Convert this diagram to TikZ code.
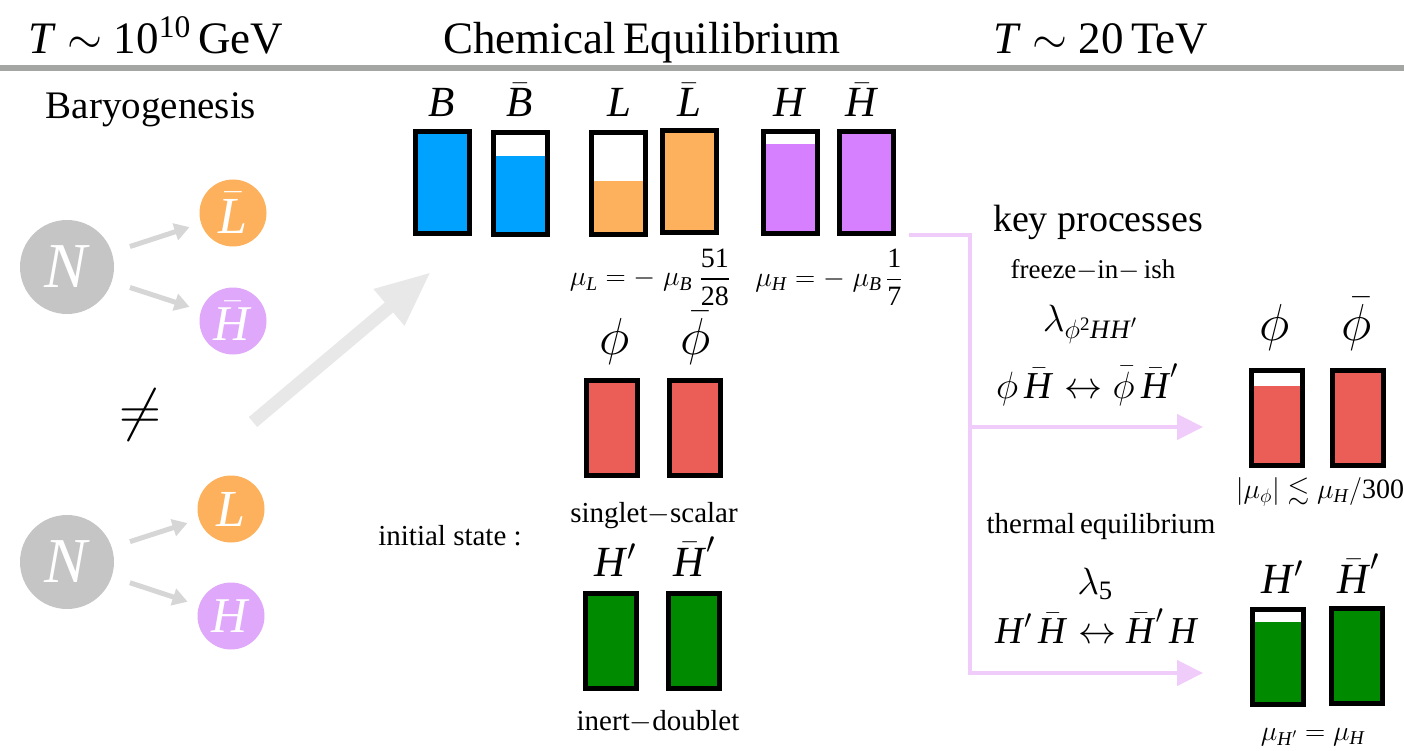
\RequirePackage{fix-cm}
\documentclass[tikz,border=0pt]{standalone}
\usepackage{amsmath,amssymb}
\usepackage{fontspec}
\setmainfont{Liberation Serif}
\usetikzlibrary{arrows.meta}
\definecolor{blueF}{RGB}{0,162,255}
\definecolor{orangeF}{RGB}{253,177,92}
\definecolor{purpleF}{RGB}{214,128,255}
\definecolor{purpleC}{RGB}{224,168,250}
\definecolor{redF}{RGB}{235,94,88}
\definecolor{greenF}{RGB}{0,138,0}
\definecolor{grayN}{RGB}{196,197,196}
\definecolor{arrowG}{RGB}{214,214,214}
\definecolor{bigG}{RGB}{232,232,232}
\definecolor{pinkL}{RGB}{240,204,250}
\definecolor{hline}{RGB}{163,166,163}
\newcommand\iv[1]{\textit{#1}}
\newcommand\fs[1]{\fontsize{#1}{#1}\selectfont}
\begin{document}
\begin{tikzpicture}[x=1pt,y=-1pt,
  txt/.style={inner sep=0pt,anchor=base},
  hdr/.style={txt,font=\fs{45}},
  lbl/.style={txt,font=\fs{43}},
  plbl/.style={txt,font=\fs{52}},
  small/.style={txt,font=\fs{29}},
  eq/.style={txt,font=\fs{38}},
  meq/.style={inner sep=0pt,anchor=center,font=\fs{28}},
  bar/.style={draw=black,line width=5pt,minimum width=54pt,minimum height=102pt,inner sep=0pt},
  sbar/.style={bar,minimum width=51pt,minimum height=95pt},
  partfill/.style={path picture={\fill[white] (path picture bounding box.north west) rectangle ([yshift=-#1pt]path picture bounding box.north east);}},
  circ/.style={circle,inner sep=0pt,text=white},
  garrow/.style={draw=arrowG,line width=5pt,-{Triangle[length=15pt,width=17pt]},shorten <=19pt,shorten >=12pt},
  pk/.style={draw=pinkL,line width=4.5pt},
  pkarrow/.style={pk,-{Triangle[length=26pt,width=25pt]}}
]
\useasboundingbox (0,0) rectangle (1404,751);
% header
\node[hdr] (h1) at (156,54) {\iv{T} $\sim$ 10$^{\text{10}}$\,GeV};
\node[hdr] (h2) at (642,54) {Chemical\,Equilibrium};
\node[hdr] (h3) at (1101,54) {\iv{T} $\sim$ 20\,TeV};
\draw[hline,line width=6pt] (0,68) -- (1404,68);
% baryogenesis
\node[txt,font=\fs{39}] (bary) at (151,119) {Baryogenesis};
\node[circ,fill=grayN,minimum size=94pt,font=\fs{64}] (n1) at (67,267) {\iv{N}};
\node[circ,fill=orangeF,minimum size=67pt,font=\fs{52}] (lb) at (233,213) {$\bar{\text{\iv{L}}}$};
\node[circ,fill=purpleC,minimum size=67pt,font=\fs{50}] (hb) at (233,321) {$\bar{\text{\iv{H}}}$};
\node[circ,fill=grayN,minimum size=94pt,font=\fs{64}] (n2) at (67,562) {\iv{N}};
\node[circ,fill=orangeF,minimum size=67pt,font=\fs{52}] (l) at (231,509) {\iv{L}};
\node[circ,fill=purpleC,minimum size=67pt,font=\fs{50}] (h) at (231,616) {\iv{H}};
\draw[garrow] (n1) -- (lb);
\draw[garrow] (n1) -- (hb);
\draw[garrow] (n2) -- (l);
\draw[garrow] (n2) -- (h);
\node[inner sep=0pt,font=\fs{58}] (neq) at (140,415) {$\neq$};
\coordinate (ba0) at (253,422);
\coordinate (ba1) at (431,272);
\draw[bigG,line width=13pt,-{Triangle[length=55pt,width=44pt]}] (ba0) -- (ba1);
% top bars
\node[bar,fill=blueF] (bB) at (442,182.5) {};
\node[bar,fill=blueF,partfill=23.5] (bBb) at (520,183.5) {};
\node[bar,fill=orangeF,partfill=48.5] (bL) at (618,183.5) {};
\node[bar,fill=orangeF] (bLb) at (689,182) {};
\node[bar,fill=purpleF,partfill=12.5] (bH) at (790,182.5) {};
\node[bar,fill=purpleF] (bHb) at (866,182.5) {};
\node[lbl] (tB) at (442,117) {\iv{B}};
\node[lbl] (tBb) at (520,117) {$\bar{\text{\iv{B}}}$};
\node[lbl] (tL) at (619,117) {\iv{L}};
\node[lbl] (tLb) at (689,117) {$\bar{\text{\iv{L}}}$};
\node[lbl] (tH) at (790,117) {\iv{H}};
\node[lbl] (tHb) at (862,117) {$\bar{\text{\iv{H}}}$};
\node[meq] (muL) at (650,277) {$\displaystyle \mu_{\text{\iv{L}}} = -\;\mu_{\text{\iv{B}}}\;\frac{\text{51}}{\text{28}}$};
\node[meq] (muH) at (829,277) {$\displaystyle \mu_{\text{\iv{H}}} = -\;\mu_{\text{\iv{B}}}\,\frac{\text{1}}{\text{7}}$};
% initial state
\node[sbar,fill=redF] (bp) at (611.5,428) {};
\node[sbar,fill=redF] (bpb) at (695,428) {};
\node[plbl] (tp) at (615,354) {$\phi$};
\node[plbl] (tpb) at (696,354) {$\bar{\phi}$};
\node[small] (sing) at (654,522) {singlet$-$scalar};
\node[small] (init) at (450,545) {initial state :};
\node[sbar,fill=greenF] (bHp) at (611,641) {};
\node[sbar,fill=greenF] (bHpb) at (694,641) {};
\node[lbl] (tHp) at (615,576) {\iv{H}$'$};
\node[lbl] (tHpb) at (694,576) {$\bar{\text{\iv{H}}}'$};
\node[small] (inert) at (658,730) {inert$-$doublet};
% processes
\coordinate (p0) at (909,235);
\coordinate (pc) at (970,235);
\coordinate (pd) at (970,673);
\coordinate (pm) at (970,427);
\coordinate (pe1) at (1203,427);
\coordinate (pe2) at (1203,673);
\draw[pkarrow] (p0) -- (pc) -- (pd) -- (pe2);
\draw[pkarrow] (pm) -- (pe1);
\node[txt,font=\fs{38}] (key) at (1098,232) {key processes};
\node[txt,font=\fs{27}] (frz) at (1093,278) {freeze$-$in$-$\,ish};
\node[eq] (lam1) at (1090,331) {$\lambda_{\phi^{\text{2}}\text{\iv{H}}\text{\iv{H}}'}$};
\node[eq] (pr1) at (1087,398) {$\phi\,\bar{\text{\iv{H}}} \leftrightarrow \bar{\phi}\,\bar{\text{\iv{H}}}'$};
\node[txt,font=\fs{29}] (therm) at (1101,533) {thermal\,equilibrium};
\node[eq] (lam2) at (1095,594) {$\lambda_{\text{5}}$};
\node[eq] (pr2) at (1097,643) {$\text{\iv{H}}'\,\bar{\text{\iv{H}}} \leftrightarrow \bar{\text{\iv{H}}}'\,\text{\iv{H}}$};
% final bars
\node[sbar,fill=redF,partfill=15.5] (rp) at (1276.5,418) {};
\node[sbar,fill=redF] (rpb) at (1358,418) {};
\node[plbl] (trp) at (1275,340) {$\phi$};
\node[plbl] (trpb) at (1357,340) {$\bar{\phi}$};
\node[meq] (mup) at (1320,492) {$|\mu_{\phi}| \lesssim \mu_{\text{\iv{H}}}/\text{300}$};
\node[sbar,fill=greenF,partfill=12.5] (rH) at (1277.5,656.5) {};
\node[sbar,fill=greenF] (rHb) at (1356.5,656) {};
\node[lbl] (trH) at (1282,593) {\iv{H}$'$};
\node[lbl] (trHb) at (1358,593) {$\bar{\text{\iv{H}}}'$};
\node[meq] (muHp) at (1313,737) {$\mu_{\text{\iv{H}}'} = \mu_{\text{\iv{H}}}$};
\end{tikzpicture}
\end{document}
